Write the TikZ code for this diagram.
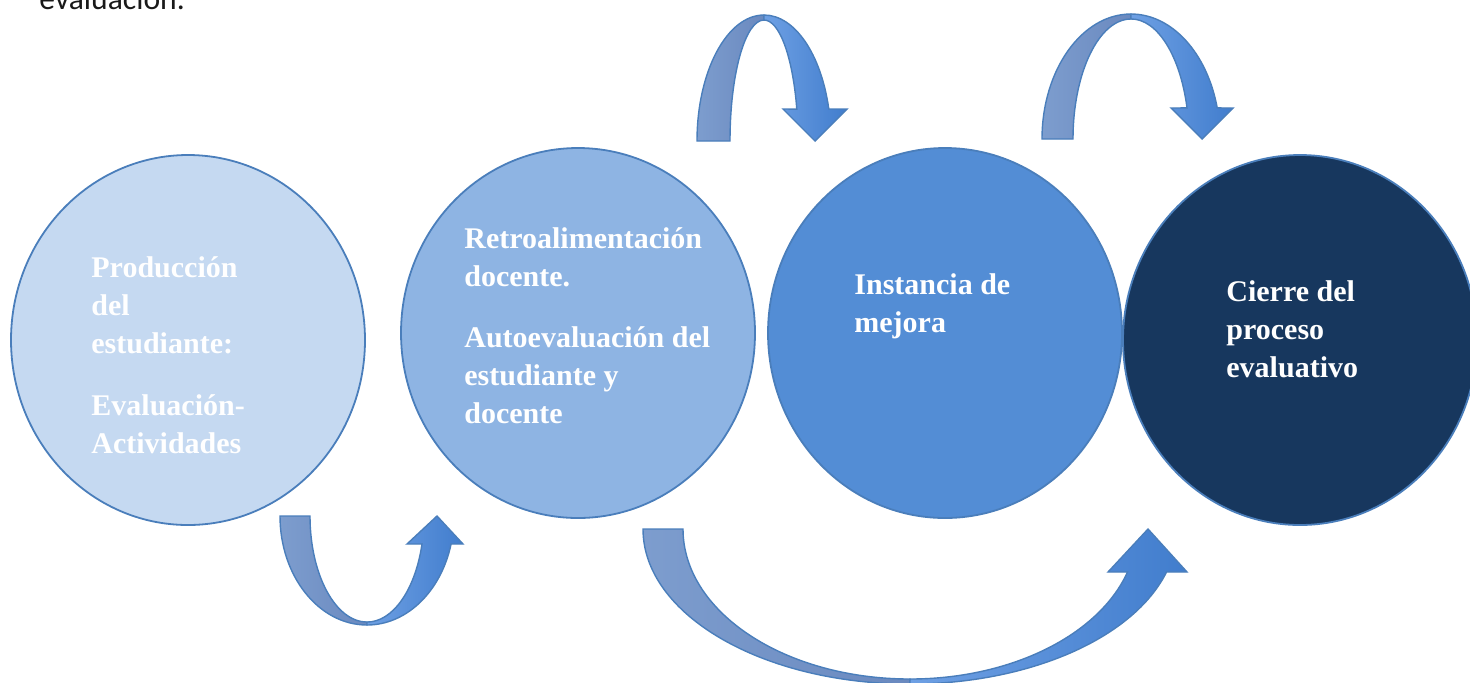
\documentclass[tikz,border=0pt]{standalone}
\usepackage{fontspec}
\setmainfont{Liberation Serif}
\newfontfamily\calibri{Carlito}
\usetikzlibrary{shapes.geometric}

\definecolor{borde}{HTML}{4A7EBB}
\definecolor{etapaA}{HTML}{C5D9F1}
\definecolor{etapaB}{HTML}{8EB4E3}
\definecolor{etapaC}{HTML}{538DD5}
\definecolor{etapaD}{HTML}{17375E}
\definecolor{colaA}{HTML}{7D9DCE}
\definecolor{colaB}{HTML}{6A89BF}
\definecolor{puntaA}{HTML}{6EA0E4}
\definecolor{puntaB}{HTML}{417DCD}

\tikzset{
    etapa/.style={ellipse, draw=borde, line width=0.9pt, minimum width=177pt, minimum height=185pt, inner sep=0pt},
    texto/.style={anchor=base west, inner sep=0pt, text=white, align=left, font=\bfseries\fontsize{15}{19}\selectfont},
    cola/.style={draw=borde, line width=0.7pt, left color=colaA, right color=colaB},
    punta/.style={draw=borde, line width=0.7pt, left color=puntaA, right color=puntaB}
}

\begin{document}
\begin{tikzpicture}[x=0.5pt, y=-0.5pt]
    \useasboundingbox (0,0) rectangle (1470,682);
    \clip (0,0) rectangle (1470,682);

    \node[anchor=base west, inner sep=0pt, text=black!90, font=\calibri\fontsize{15.8}{19}\selectfont] (encabezado) at (39,9) {evaluación.};

    % etapas
    \node[etapa, fill=etapaA] (produccion) at (188,340) {};
    \node[etapa, fill=etapaB] (retro) at (578,333) {};
    \node[etapa, fill=etapaC] (mejora) at (945,333) {};
    \node[etapa, fill=etapaD] (cierre) at (1300,340) {};

    % base = ultima linea
    \node[texto] (tproduccion) at (91,453) {Producción\\del\\estudiante:\\[12pt]Evaluación-\\Actividades};
    \node[texto] (tretro) at (464,423) {Retroalimentación\\docente.\\[11.5pt]Autoevaluación del\\estudiante y\\docente};
    \node[texto] (tmejora) at (854,332) {Instancia de\\mejora};
    \node[texto] (tcierre) at (1226,377) {Cierre del\\proceso\\evaluativo};

    % flecha arriba, retro -> mejora
    \path[cola] (697,141) arc[start angle=180, end angle=270, x radius=67, y radius=126]
        -- (764,20) arc[start angle=270, end angle=180, x radius=34, y radius=121] -- cycle;
    \path[punta] (764,15) arc[start angle=270, end angle=345.3, x radius=67, y radius=126]
        -- (847,109) -- (815,141) -- (783,109) -- (796.8,109.1)
        arc[start angle=344.7, end angle=270, x radius=34, y radius=121] -- cycle;

    % flecha arriba, mejora -> cierre
    \path[cola] (1042,139) arc[start angle=180, end angle=270, x radius=89, y radius=125]
        -- (1131,19) arc[start angle=270, end angle=180, x radius=58, y radius=120] -- cycle;
    \path[punta] (1131,14) arc[start angle=270, end angle=345.6, x radius=89, y radius=125]
        -- (1233,108) -- (1202,139) -- (1171,108) -- (1187,107.9)
        arc[start angle=345, end angle=270, x radius=58, y radius=120] -- cycle;

    % flecha abajo, produccion -> retro
    \path[cola] (280,516) arc[start angle=180, end angle=90, x radius=87, y radius=109]
        -- (367,622) arc[start angle=90, end angle=180, x radius=57, y radius=106] -- cycle;
    \path[punta] (367,625) arc[start angle=90, end angle=14.9, x radius=87, y radius=109]
        -- (463,544) -- (437,516) -- (407,544) -- (422,544)
        arc[start angle=15.3, end angle=90, x radius=57, y radius=106] -- cycle;

    % flecha abajo, retro -> cierre
    \path[cola] (643,529) arc[start angle=180, end angle=90, x radius=267, y radius=155]
        -- (910,679) arc[start angle=90, end angle=180, x radius=227, y radius=150] -- cycle;
    \path[punta] (910,684) arc[start angle=90, end angle=16.1, x radius=267, y radius=155]
        -- (1187,572) -- (1148,529) -- (1108,572) -- (1127.5,572)
        arc[start angle=16.66, end angle=90, x radius=227, y radius=150] -- cycle;
\end{tikzpicture}
\end{document}
